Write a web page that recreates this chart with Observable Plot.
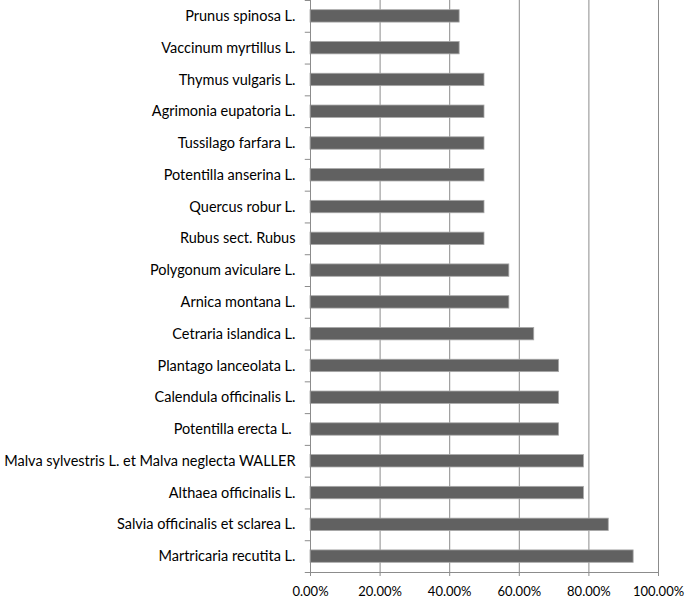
<!DOCTYPE html>
<html>
<head>
<meta charset="utf-8">
<script src="https://cdn.jsdelivr.net/npm/d3@7"></script>
<script src="https://cdn.jsdelivr.net/npm/@observablehq/plot@0.6"></script>
<style>
  html, body { margin: 0; padding: 0; background: #fff; }
  #chart svg { display: block; }
</style>
</head>
<body>
<div id="chart"></div>
<script>
const species = [
  "Prunus spinosa L.",
  "Vaccinum myrtillus L.",
  "Thymus vulgaris L.",
  "Agrimonia eupatoria L.",
  "Tussilago farfara L.",
  "Potentilla anserina L.",
  "Quercus robur L.",
  "Rubus sect. Rubus",
  "Polygonum aviculare L.",
  "Arnica montana L.",
  "Cetraria islandica L.",
  "Plantago lanceolata L.",
  "Calendula officinalis L.",
  "Potentilla erecta L. ",
  "Malva sylvestris L. et Malva neglecta WALLER",
  "Althaea officinalis L.",
  "Salvia officinalis et sclarea L.",
  "Martricaria recutita L."
];
const shares = [
  0.4286, 0.4286, 0.5, 0.5, 0.5, 0.5, 0.5, 0.5,
  0.5714, 0.5714, 0.6429, 0.7143, 0.7143, 0.7143,
  0.7857, 0.7857, 0.8571, 0.9286
];
const xTicks = [0, 0.2, 0.4, 0.6, 0.8, 1.0];

const data = species.map((s, i) => ({species: s, share: shares[i]}));

const W = 685, H = 603, mTop = 0, mBottom = 31, mLeft = 310, mRight = 27;
const step = (H - mTop - mBottom) / species.length;
const font = "Lato, 'Open Sans', sans-serif";
const gray = "#8c8c8c";

const chart = Plot.plot({
  width: W,
  height: H,
  marginTop: mTop,
  marginBottom: mBottom,
  marginLeft: mLeft,
  marginRight: mRight,
  style: {fontFamily: font, fontSize: "14px", color: "#000", background: "#fff"},
  x: {domain: [0, 1], ticks: xTicks, tickFormat: d3.format(".2%")},
  y: {domain: species, paddingInner: 0.61, paddingOuter: 0.305, round: false},
  marks: [
    Plot.ruleX(xTicks.slice(1), {stroke: gray, strokeWidth: 1, strokeOpacity: 1}),
    Plot.barX(data, {y: "species", x: "share", fill: "#616161", stroke: "#a8a8a8", strokeWidth: 0.8}),
    Plot.ruleX([0], {stroke: gray, strokeWidth: 1}),
    Plot.ruleY([species[species.length - 1]], {x1: 0, x2: 1, dy: step / 2, stroke: gray, strokeWidth: 1}),
    Plot.ruleY(species, {x1: -0.015, x2: 0, dy: step / 2, stroke: gray, strokeWidth: 1}),
    Plot.ruleY([species[0]], {x1: -0.015, x2: 0, dy: -step / 2, stroke: gray, strokeWidth: 1}),
    Plot.axisY({tickSize: 0, tickPadding: 15, label: null, fontSize: 14.5, fill: "#000"}),
    Plot.axisX({ticks: xTicks, tickFormat: d3.format(".2%"), tickSize: 4, tickPadding: 10, stroke: gray, label: null, fontSize: 13, fill: "#000"})
  ]
});
document.getElementById("chart").appendChild(chart);
</script>
</body>
</html>
